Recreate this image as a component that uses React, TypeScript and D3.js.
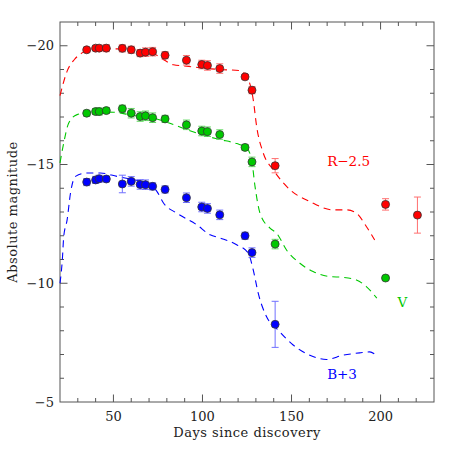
import React, { useEffect, useRef } from "react";
import * as d3 from "d3";

// observed photometry (days since discovery, absolute magnitude, error)
const rDays = [35, 40, 42, 46, 55, 60, 65, 68, 72, 79, 91, 99.6, 102.8, 109.7, 123.9, 127.8, 140.8, 202.8, 220.7];
const rMag = [-19.83, -19.9, -19.9, -19.9, -19.89, -19.83, -19.69, -19.73, -19.75, -19.6, -19.39, -19.21, -19.17, -19.04, -18.69, -18.13, -14.95, -13.32, -12.87];
const rErr = [0.1, 0.1, 0.12, 0.15, 0.15, 0.15, 0.15, 0.18, 0.18, 0.15, 0.2, 0.18, 0.2, 0.2, 0.1, 0.15, 0.3, 0.24, 0.76];

const vDays = [35, 40, 42, 46, 55, 60, 65, 68, 72, 79, 91, 99.6, 102.8, 109.7, 123.9, 127.8, 140.8, 202.8];
const vMag = [-17.16, -17.23, -17.23, -17.27, -17.35, -17.16, -17.02, -17.05, -16.97, -16.92, -16.67, -16.41, -16.38, -16.26, -15.72, -15.11, -11.65, -10.22];
const vErr = [0.12, 0.12, 0.15, 0.12, 0.15, 0.2, 0.2, 0.2, 0.2, 0.15, 0.2, 0.2, 0.2, 0.2, 0.12, 0.2, 0.2, 0];

const bDays = [35, 40, 42, 46, 55, 60, 65, 68, 72, 79, 91, 99.6, 102.8, 109.7, 123.9, 127.8, 140.8];
const bMag = [-14.26, -14.35, -14.4, -14.39, -14.18, -14.29, -14.16, -14.15, -14.08, -13.95, -13.6, -13.21, -13.15, -12.88, -12.0, -11.29, -8.27];
const bErr = [0.15, 0.15, 0.15, 0.12, 0.37, 0.2, 0.2, 0.2, 0.15, 0.15, 0.2, 0.2, 0.2, 0.2, 0.15, 0.2, 0.97];

// model light curves
const rModelDays = [20, 24, 28.1, 32.4, 36, 48.3, 60.4, 72.5, 78.7, 83.7, 91.2, 102.4, 110, 121.1, 125.7, 128.5, 130.4, 134.1, 139.7, 149.1, 160.3, 173.3, 180.8, 186.4, 192, 196.7];
const rModelMag = [-17.9, -18.93, -19.42, -19.7, -19.85, -19.87, -19.84, -19.67, -19.39, -19.2, -19.14, -19.04, -19.0, -18.95, -18.58, -17.73, -16.61, -15.49, -14.78, -13.94, -13.44, -13.09, -13.09, -12.95, -12.39, -11.82];

const vModelDays = [20, 22.1, 24.9, 29.6, 37.1, 50.1, 61.3, 72.5, 80, 91.2, 102.4, 110, 119.2, 124.8, 127.6, 129.5, 132.3, 137.9, 141.6, 147.2, 154.7, 162.1, 171.5, 178.9, 186.4, 192, 197.9];
const vModelMag = [-15.07, -15.91, -16.75, -17.1, -17.21, -17.2, -17.06, -16.96, -16.78, -16.47, -16.19, -16.05, -15.88, -15.7, -15.2, -14.08, -12.95, -12.32, -12.11, -11.4, -10.84, -10.49, -10.28, -10.25, -10.14, -9.86, -9.37];

const bModelDays = [20, 21.3, 22.1, 24, 25.9, 28.7, 35.2, 42.7, 52, 61.3, 68.8, 74.4, 78.1, 85.6, 96.8, 104.3, 110, 119.2, 125.7, 128.5, 131.3, 136, 142.5, 150.9, 160.3, 169.6, 178.9, 188.3, 193.9, 196.7];
const bModelMag = [-10.0, -10.98, -11.97, -12.67, -13.8, -14.5, -14.64, -14.64, -14.5, -14.36, -14.22, -13.87, -13.38, -12.95, -12.46, -12.04, -11.9, -11.62, -11.27, -10.56, -9.58, -8.59, -8.03, -7.4, -6.97, -6.79, -6.97, -7.07, -7.11, -7.02];

const xTicks = [50, 100, 150, 200];
const yTicks = [-20, -15, -10, -5];

const RED = "#ff0000";
const GREEN = "#00c800";
const BLUE = "#0000ff";

export default function App() {
  const svgRef = useRef<SVGSVGElement | null>(null);

  useEffect(() => {
    if (!svgRef.current) return;
    const W = 457;
    const H = 457;
    const margin = { top: 22, right: 23, bottom: 55, left: 60 };
    const innerW = W - margin.left - margin.right;
    const innerH = H - margin.top - margin.bottom;

    const svg = d3.select(svgRef.current);
    svg.selectAll("*").remove();
    svg.attr("width", W).attr("height", H);

    const g = svg.append("g").attr("transform", `translate(${margin.left},${margin.top})`);

    const x = d3.scaleLinear().domain([20, 230]).range([0, innerW]);
    const y = d3.scaleLinear().domain([-21, -5]).range([0, innerH]);

    const axisColor = "#555";
    const font = "'DejaVu Serif', serif";

    // frame
    g.append("rect")
      .attr("width", innerW)
      .attr("height", innerH)
      .attr("fill", "none")
      .attr("stroke", axisColor)
      .attr("stroke-width", 1);

    // ticks on all four sides
    const xMinor = d3.range(30, 230, 10);
    xMinor.forEach((d) => {
      const len = d % 50 === 0 ? 7.5 : 4;
      g.append("line").attr("x1", x(d)).attr("x2", x(d)).attr("y1", innerH).attr("y2", innerH - len).attr("stroke", axisColor);
      g.append("line").attr("x1", x(d)).attr("x2", x(d)).attr("y1", 0).attr("y2", len).attr("stroke", axisColor);
    });
    const yMinor = d3.range(-20, -5, 1);
    yMinor.forEach((d) => {
      const len = d % 5 === 0 ? 7.5 : 4;
      g.append("line").attr("x1", 0).attr("x2", len).attr("y1", y(d)).attr("y2", y(d)).attr("stroke", axisColor);
      g.append("line").attr("x1", innerW).attr("x2", innerW - len).attr("y1", y(d)).attr("y2", y(d)).attr("stroke", axisColor);
    });

    // tick labels
    g.selectAll(".xt")
      .data(xTicks)
      .join("text")
      .attr("x", (d) => x(d))
      .attr("y", innerH + 19)
      .attr("text-anchor", "middle")
      .attr("font-family", font)
      .attr("font-size", 13)
      .attr("fill", "#222")
      .text((d) => d);

    g.selectAll(".yt")
      .data(yTicks)
      .join("text")
      .attr("x", -6)
      .attr("y", (d) => y(d) + 4.5)
      .attr("text-anchor", "end")
      .attr("font-family", font)
      .attr("font-size", 13)
      .attr("fill", "#222")
      .text((d) => `−${Math.abs(d)}`);

    // axis titles
    svg.append("text")
      .attr("x", margin.left + innerW / 2)
      .attr("y", 437)
      .attr("text-anchor", "middle")
      .attr("font-family", font)
      .attr("font-size", 13)
      .attr("letter-spacing", 0.5)
      .attr("fill", "#222")
      .text("Days since discovery");

    svg.append("text")
      .attr("transform", `translate(17,${margin.top + innerH / 2}) rotate(-90)`)
      .attr("text-anchor", "middle")
      .attr("font-family", font)
      .attr("font-size", 13)
      .attr("letter-spacing", 0.5)
      .attr("fill", "#222")
      .text("Absolute magnitude");

    const line = d3
      .line<[number, number]>()
      .x((d) => x(d[0]))
      .y((d) => y(d[1]))
      .curve(d3.curveMonotoneX);

    const models = [
      { days: rModelDays, mag: rModelMag, color: RED },
      { days: vModelDays, mag: vModelMag, color: GREEN },
      { days: bModelDays, mag: bModelMag, color: BLUE },
    ];
    models.forEach((m) => {
      g.append("path")
        .datum(m.days.map((d, i) => [d, m.mag[i]] as [number, number]))
        .attr("d", line)
        .attr("fill", "none")
        .attr("stroke", m.color)
        .attr("stroke-width", 1.1)
        .attr("stroke-dasharray", "7,5");
    });

    const series = [
      { days: rDays, mag: rMag, err: rErr, color: RED, errColor: "#ff7070" },
      { days: vDays, mag: vMag, err: vErr, color: GREEN, errColor: "#60d860" },
      { days: bDays, mag: bMag, err: bErr, color: BLUE, errColor: "#7070ff" },
    ];
    series.forEach((s) => {
      const pts = s.days.map((d, i) => ({ d, m: s.mag[i], e: s.err[i] }));
      const eb = g.append("g").attr("stroke", s.errColor).attr("stroke-width", 1);
      pts.filter((p) => p.e > 0).forEach((p) => {
        eb.append("line").attr("x1", x(p.d)).attr("x2", x(p.d)).attr("y1", y(p.m - p.e)).attr("y2", y(p.m + p.e));
        eb.append("line").attr("x1", x(p.d) - 3.5).attr("x2", x(p.d) + 3.5).attr("y1", y(p.m - p.e)).attr("y2", y(p.m - p.e));
        eb.append("line").attr("x1", x(p.d) - 3.5).attr("x2", x(p.d) + 3.5).attr("y1", y(p.m + p.e)).attr("y2", y(p.m + p.e));
      });
      g.append("g")
        .selectAll("circle")
        .data(pts)
        .join("circle")
        .attr("cx", (p) => x(p.d))
        .attr("cy", (p) => y(p.m))
        .attr("r", 4)
        .attr("fill", s.color)
        .attr("stroke", "#333")
        .attr("stroke-width", 0.8);
    });

    // band labels
    const labels = [
      { text: "R−2.5", d: 170, m: -14.94, color: RED },
      { text: "V", d: 209.5, m: -9.0, color: GREEN },
      { text: "B+3", d: 170, m: -5.95, color: BLUE },
    ];
    g.selectAll(".lab")
      .data(labels)
      .join("text")
      .attr("x", (l) => x(l.d))
      .attr("y", (l) => y(l.m))
      .attr("font-family", font)
      .attr("font-size", 13.5)
      .attr("fill", (l) => l.color)
      .text((l) => l.text);
  }, []);

  return <svg ref={svgRef} style={{ display: "block", position: "absolute", left: 0, top: 0 }} />;
}
